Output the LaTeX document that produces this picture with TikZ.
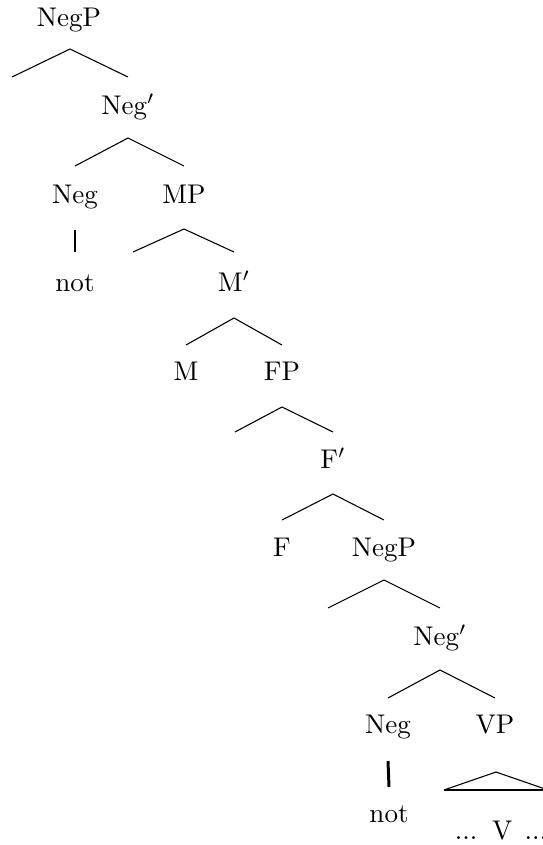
\documentclass[tikz,border=0pt]{standalone}
\usetikzlibrary{calc}
\begin{document}
\begin{tikzpicture}[x=0.37pt,y=-0.37pt,
  lbl/.style={anchor=base,inner sep=0pt},
  branch/.style={line width=0.4pt},
  headline/.style={line width=1.1pt}]
\useasboundingbox (0,0) rectangle (542,845);
% labels
\node[lbl] (n1)  at (69,26)   {NegP};
\coordinate (s1) at (12,114);
\node[lbl] (n2)  at (128,114) {Neg$'$};
\node[lbl] (n3)  at (75,203)  {Neg};
\node[lbl] (n4)  at (184,203) {MP};
\node[lbl] (n5)  at (75,291)  {not};
\coordinate (s2) at (133,291);
\node[lbl] (n6)  at (234,291) {M$'$};
\node[lbl] (n7)  at (186,380) {M};
\node[lbl] (n8)  at (282,380) {FP};
\coordinate (s3) at (235,468);
\node[lbl] (n9)  at (333,468) {F$'$};
\node[lbl] (n10) at (282,556) {F};
\node[lbl] (n11) at (384,556) {NegP};
\coordinate (s4) at (328,645);
\node[lbl] (n12) at (440,645) {Neg$'$};
\node[lbl] (n13) at (388,733) {Neg};
\node[lbl] (n14) at (495,733) {VP};
\node[lbl] (n15) at (389,822) {not};
\node[lbl] (n16) at (501,839) {...\hspace{5.5pt}V\hspace{4.5pt}...};
% branches
\draw[branch] ($(s1)+(0,-37)$) -- ($(n1.base)+(1,23)$) -- ($(n2.base)+(0,-37)$);
\draw[branch] ($(n3.base)+(0,-37)$) -- ($(n2.base)+(0,24)$) -- ($(n4.base)+(0,-37)$);
\draw[headline] ($(n3.base)+(0,27)$) -- ($(n5.base)+(0,-39)$);
\draw[branch] ($(s2)+(0,-39)$) -- ($(n4.base)+(0,26)$) -- ($(n6.base)+(0,-39)$);
\draw[branch] ($(n7.base)+(0,-35)$) -- ($(n6.base)+(0,27)$) -- ($(n8.base)+(0,-35)$);
\draw[branch] ($(s3)+(0,-36)$) -- ($(n8.base)+(0,27)$) -- ($(n9.base)+(0,-36)$);
\draw[branch] ($(n10.base)+(0,-36)$) -- ($(n9.base)+(0,26)$) -- ($(n11.base)+(0,-36)$);
\draw[branch] ($(s4)+(0,-37)$) -- ($(n11.base)+(0,24)$) -- ($(n12.base)+(0,-37)$);
\draw[branch] ($(n13.base)+(0,-35)$) -- ($(n12.base)+(0,25)$) -- ($(n14.base)+(0,-35)$);
\draw[headline] ($(n13.base)+(0,28)$) -- ($(n15.base)+(0,-35)$);
% triangle over VP
\coordinate (tl) at ($(n14.base)+(-51,57)$);
\coordinate (tr) at ($(n14.base)+(53,57)$);
\draw[branch] (tl) -- ($(n14.base)+(1,39)$) -- (tr);
\draw[headline] (tl) -- (tr);
\end{tikzpicture}
\end{document}
